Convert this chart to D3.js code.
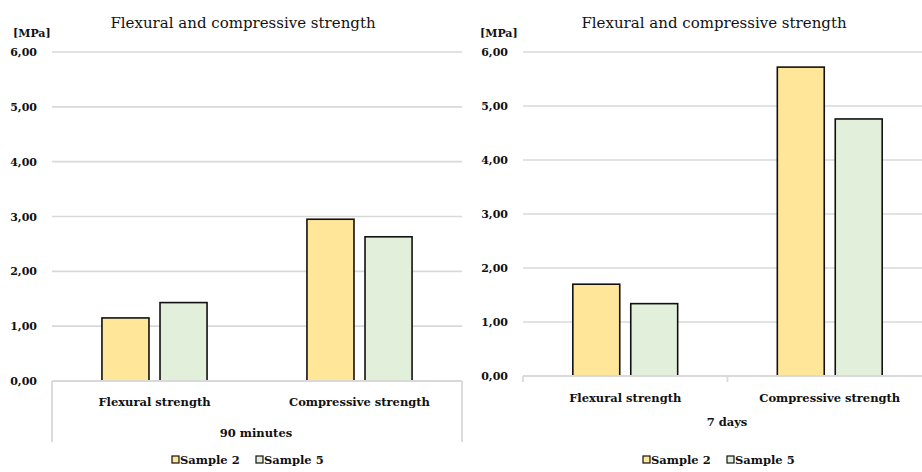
<!DOCTYPE html>
<html>
<head>
<meta charset="utf-8">
<script src="https://cdn.jsdelivr.net/npm/d3@7/dist/d3.min.js"></script>
<style>
  html, body { margin: 0; padding: 0; background: #fff; }
  svg { display: block; }
  text { font-family: "DejaVu Serif", "Liberation Serif", serif; fill: #111; }
</style>
</head>
<body>
<svg id="chart" width="922" height="472"></svg>
<script>
// Strength categories and series
const categories = ["Flexural strength", "Compressive strength"];
const seriesNames = ["Sample 2", "Sample 5"];
const seriesColors = ["#FFE699", "#E2EFDA"];

// Strength values [MPa] after 90 minutes
const sample2At90min = [1.15, 2.95];
const sample5At90min = [1.43, 2.63];

// Strength values [MPa] after 7 days
const sample2At7days = [1.70, 5.72];
const sample5At7days = [1.34, 4.76];

// Value axis ticks
const yTicks = [0, 1, 2, 3, 4, 5, 6];
const yMax = 6;

const chartTitle = "Flexural and compressive strength";
const unitLabel = "[MPa]";
const ageLabels = ["90 minutes", "7 days"];

const svg = d3.select("#chart");
const fmt = v => d3.format(".2f")(v).replace(".", ",");

const panels = [
  { age: ageLabels[0], values: [sample2At90min, sample5At90min],
    x0: 52, x1: 462, yTop: 52, yBottom: 381, tickRight: 37, unitX: 13,
    titleX: 243, catY: 406, ageX: 256, ageY: 437, sideLines: true, legendX: 172 },
  { age: ageLabels[1], values: [sample2At7days, sample5At7days],
    x0: 523, x1: 932, yTop: 52, yBottom: 376, tickRight: 508, unitX: 480,
    titleX: 714, catY: 402, ageX: 727, ageY: 426, sideLines: false, legendX: 643 }
];

panels.forEach(p => {
  const g = svg.append("g");

  const y = d3.scaleLinear().domain([0, yMax]).range([p.yBottom, p.yTop]);
  const xCat = d3.scaleBand().domain(categories).range([p.x0, p.x1]).padding(0);
  const xSeries = d3.scaleBand().domain(seriesNames)
    .range([0, xCat.bandwidth()]).paddingInner(0.19).paddingOuter(0.86);

  // Title and unit
  g.append("text").attr("x", p.titleX).attr("y", 28)
    .attr("text-anchor", "middle").attr("font-size", 15).text(chartTitle);
  g.append("text").attr("x", p.unitX).attr("y", 37)
    .attr("font-size", 11).attr("font-weight", "bold").text(unitLabel);

  // Gridlines
  g.append("g").selectAll("line").data(yTicks.filter(t => t > 0)).join("line")
    .attr("x1", p.x0).attr("x2", p.x1)
    .attr("y1", d => y(d)).attr("y2", d => y(d))
    .attr("stroke", "#d9d9d9").attr("stroke-width", 1.6);

  // Value axis labels
  const yAxis = d3.axisLeft(y).tickValues(yTicks).tickFormat(fmt).tickSize(0).tickPadding(0);
  const ya = g.append("g").attr("transform", `translate(${p.tickRight},0)`).call(yAxis);
  ya.select(".domain").remove();
  ya.selectAll("text").attr("font-size", 11).attr("font-weight", "bold")
    .attr("font-family", "\"DejaVu Serif\", serif").attr("fill", "#111");

  // Bars
  const rows = categories.map((c, i) => ({ cat: c, vals: seriesNames.map((s, j) => ({ s, v: p.values[j][i], j })) }));
  g.append("g").selectAll("g").data(rows).join("g")
    .attr("transform", d => `translate(${xCat(d.cat)},0)`)
    .selectAll("rect").data(d => d.vals).join("rect")
    .attr("x", d => xSeries(d.s))
    .attr("width", xSeries.bandwidth())
    .attr("y", d => y(d.v))
    .attr("height", d => y(0) - y(d.v))
    .attr("fill", d => seriesColors[d.j])
    .attr("stroke", "#111").attr("stroke-width", 1.6);

  // Category axis baseline and separators
  const axisCol = "#d9d9d9";
  g.append("line").attr("x1", p.x0).attr("x2", p.x1)
    .attr("y1", y(0)).attr("y2", y(0)).attr("stroke", axisCol).attr("stroke-width", 1.8);
  if (p.sideLines) {
    [p.x0, p.x1].forEach(xx => g.append("line")
      .attr("x1", xx).attr("x2", xx).attr("y1", y(0)).attr("y2", 442)
      .attr("stroke", axisCol).attr("stroke-width", 1.8));
  } else {
    [p.x0, xCat(categories[1])].forEach(xx => g.append("line")
      .attr("x1", xx).attr("x2", xx).attr("y1", y(0)).attr("y2", y(0) + 6)
      .attr("stroke", axisCol).attr("stroke-width", 1.8));
  }

  // Category labels
  g.append("g").selectAll("text").data(categories).join("text")
    .attr("x", d => xCat(d) + xCat.bandwidth() / 2)
    .attr("y", p.catY).attr("text-anchor", "middle")
    .attr("font-size", 11.5).attr("font-weight", "bold").text(d => d);

  // Age label
  g.append("text").attr("x", p.ageX)
    .attr("y", p.ageY).attr("text-anchor", "middle")
    .attr("font-size", 11.5).attr("font-weight", "bold").text(p.age);

  // Legend
  const lg = g.append("g").attr("transform", `translate(${p.legendX},0)`);
  const items = lg.selectAll("g").data(seriesNames).join("g")
    .attr("transform", (d, i) => `translate(${i * 84},0)`);
  items.append("rect").attr("x", 0).attr("y", 456).attr("width", 7).attr("height", 7)
    .attr("fill", (d, i) => seriesColors[i]).attr("stroke", "#111").attr("stroke-width", 1.2);
  items.append("text").attr("x", 8).attr("y", 464)
    .attr("font-size", 11.5).attr("font-weight", "bold").text(d => d);
});
</script>
</body>
</html>
